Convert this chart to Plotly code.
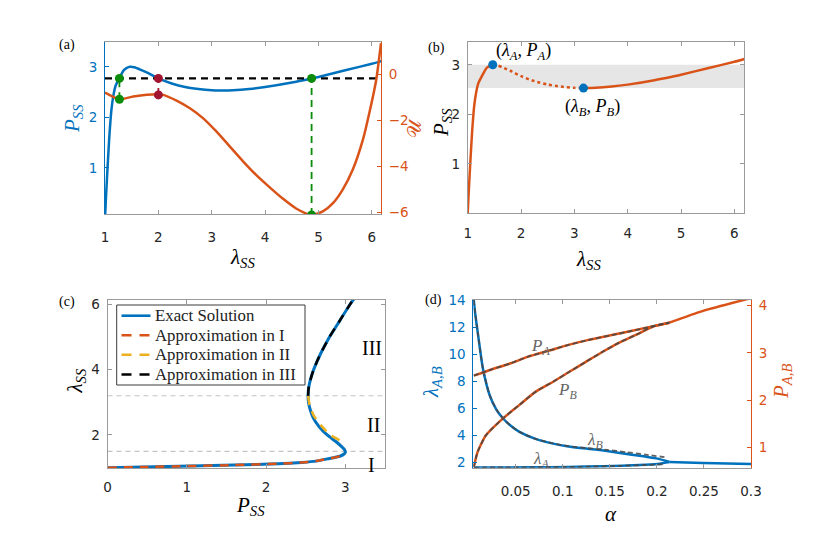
import plotly.graph_objects as go

W, H = 830, 538
OX, OY = 8, 8  # page body margin of the browser
BLUE = "#0072BD"; ORANGE = "#D95319"; YELLOW = "#EDB120"
GREEN = "#0b8c0b"; RED = "#A2142F"; FRAME = "#9a9a9a"; TICK = "#262626"; LGRAY = "#666666"
SERIF = "Liberation Serif"; SANS = "DejaVu Sans"

# ---- steady-state pressure curve P_SS(lambda_SS) ----
lam_ss = [1.00, 1.02, 1.05, 1.08, 1.12, 1.16, 1.20, 1.27, 1.35, 1.41, 1.47, 1.55, 1.65, 1.80,
          2.00, 2.25, 2.50, 2.75, 3.00, 3.17, 3.40, 3.70, 4.00, 4.50, 4.87, 5.00, 5.50, 6.00, 6.20]
p_ss = [0.00, 0.45, 1.05, 1.60, 2.15, 2.45, 2.63, 2.78, 2.93, 2.98, 3.00, 2.99, 2.95, 2.88,
        2.77, 2.67, 2.60, 2.56, 2.535, 2.53, 2.535, 2.56, 2.60, 2.69, 2.77, 2.80, 2.93, 3.06, 3.12]

# ---- potential U(lambda) ----
lam_u = [1.00, 1.27, 1.53, 1.97, 2.09, 2.34, 2.59, 2.84, 3.09, 3.34, 3.59, 3.83, 4.08, 4.33,
         4.58, 4.86, 5.08, 5.27, 5.45, 5.64, 5.83, 5.95, 6.08, 6.17]
u_val = [-0.79, -1.08, -0.96, -0.86, -0.89, -1.14, -1.47, -1.91, -2.49, -3.14, -3.79, -4.37,
         -4.90, -5.40, -5.83, -6.11, -5.96, -5.60, -5.02, -4.15, -2.85, -1.69, -0.24, 1.36]
p_line = 2.77
lam_marks = [1.27, 2.00, 4.87]
u_marks = [-1.08, -0.89, -6.11]
mark_colors = [GREEN, RED, GREEN]

# ---- (b) critical points ----
lam_A, P_A = 1.47, 3.00
lam_B, P_B = 3.17, 2.53

# ---- (c) approximations ----
lam_I = [1.00, 1.02, 1.05, 1.08, 1.12, 1.16, 1.20, 1.27, 1.33, 1.38]
p_I = [0.00, 0.45, 1.05, 1.60, 2.15, 2.45, 2.63, 2.78, 2.90, 2.96]
lam_II = [3.20, 2.90, 2.60, 2.30, 2.00, 1.78]
p_II = [2.53, 2.55, 2.60, 2.69, 2.81, 2.98]
lam_III = [3.20, 3.50, 4.00, 4.50, 5.00, 5.50, 6.00, 6.15]
p_III = [2.53, 2.54, 2.60, 2.69, 2.80, 2.93, 3.06, 3.10]
bounds_c = [1.5, 3.2]
legend_names = ["Exact Solution", "Approximation in I", "Approximation in II", "Approximation in III"]

# ---- (d) critical values vs alpha ----
alpha_lB = [0.0055, 0.007, 0.0101, 0.0152, 0.0224, 0.0295, 0.0367, 0.0448, 0.054, 0.0704, 0.0898,
            0.1061, 0.1265, 0.147, 0.1715, 0.1878, 0.2011, 0.2133]
lamB = [14.0, 13.0, 11.4, 8.94, 6.96, 5.9, 5.24, 4.7, 4.25, 3.75, 3.38, 3.17,
        3.0, 2.83, 2.57, 2.42, 2.27, 2.02]
alpha_lA = [0.0055, 0.0448, 0.0857, 0.1265, 0.1623, 0.1878, 0.2031, 0.2133]
lamA = [1.61, 1.62, 1.64, 1.68, 1.74, 1.82, 1.90, 2.02]
alpha_lpost = [0.2133, 0.2491, 0.30]
lam_post = [2.02, 1.95, 1.87]
alpha_lB_ap = [0.0055, 0.007, 0.0101, 0.0152, 0.0224, 0.0295, 0.0367, 0.0448, 0.054, 0.0704, 0.0898,
               0.1061, 0.1265, 0.147, 0.1674, 0.1878, 0.2113]
lamB_ap = [14.0, 13.0, 11.4, 8.94, 6.96, 5.9, 5.24, 4.7, 4.25, 3.75, 3.40, 3.20,
           3.04, 2.92, 2.75, 2.57, 2.35]
alpha_lA_ap = [0.0055, 0.0448, 0.0857, 0.1265, 0.1623, 0.1878, 0.2082]
lamA_ap = [1.61, 1.62, 1.64, 1.68, 1.74, 1.80, 1.86]
alpha_PA = [0.0055, 0.0244, 0.0448, 0.0632, 0.0857, 0.1061, 0.1265, 0.1602, 0.1878, 0.2133]
PA = [2.52, 2.65, 2.78, 2.92, 3.05, 3.17, 3.27, 3.41, 3.53, 3.64]
alpha_PB = [0.0056, 0.0097, 0.0186, 0.0363, 0.054, 0.0714, 0.0898, 0.1071, 0.1245, 0.1429, 0.1602,
            0.1776, 0.196, 0.2133]
PB = [0.59, 0.91, 1.26, 1.61, 1.90, 2.18, 2.39, 2.60, 2.81, 3.03, 3.22, 3.38, 3.56, 3.64]
alpha_Ppost = [0.2133, 0.2491, 0.30]
P_post = [3.64, 3.89, 4.16]

# axis ranges
XR_A = [1, 6.17]; YR_A = [0.09, 3.49]; UR_A = [-6.07, 1.41]
XR_B = [1, 6.18]; YR_B = [0.01, 3.46]
XR_C = [0, 3.5]; YR_C = [0.98, 6.13]
XR_D = [0.005, 0.3]; YL_D = [1.6, 14.0]; YRR_D = [0.57, 4.12]


def px(x):
    return (x - OX) / W


def py(y):
    return 1 - (y - OY) / H


def p_to_u(p):
    return UR_A[0] + (p - YR_A[0]) / (YR_A[1] - YR_A[0]) * (UR_A[1] - UR_A[0])


fig = go.Figure()
NL = dict(showlegend=False, hoverinfo="skip")
SPL = dict(shape="spline", smoothing=0.6)

# ---------------- (a) ----------------
fig.add_trace(go.Scatter(x=lam_ss, y=p_ss, mode="lines", line=dict(color=BLUE, width=2.5, **SPL),
                         xaxis="x", yaxis="y", **NL))
fig.add_trace(go.Scatter(x=lam_u, y=u_val, mode="lines", line=dict(color=ORANGE, width=2.5, **SPL),
                         xaxis="x", yaxis="y2", **NL))
fig.add_trace(go.Scatter(x=[lam_ss[0], lam_ss[-1]], y=[p_line, p_line], mode="lines",
                         line=dict(color="black", width=2.2, dash="7px,5px"), xaxis="x", yaxis="y", **NL))
for lm, um, c in zip(lam_marks, u_marks, mark_colors):
    fig.add_trace(go.Scatter(x=[lm, lm], y=[um, p_to_u(p_line)], mode="lines",
                             line=dict(color=c, width=1.8, dash="7px,5px"), xaxis="x", yaxis="y2", **NL))
    fig.add_trace(go.Scatter(x=[lm], y=[um], mode="markers", marker=dict(color=c, size=9),
                             xaxis="x", yaxis="y2", **NL))
    fig.add_trace(go.Scatter(x=[lm], y=[p_line], mode="markers", marker=dict(color=c, size=9),
                             xaxis="x", yaxis="y", **NL))

# ---------------- (b) ----------------
seg1 = [(l, p) for l, p in zip(lam_ss, p_ss) if l <= lam_A]
seg2 = [(l, p) for l, p in zip(lam_ss, p_ss) if lam_A <= l <= lam_B]
seg3 = [(l, p) for l, p in zip(lam_ss, p_ss) if l >= lam_B]
for seg, dash in ((seg1, "solid"), (seg2, "dot"), (seg3, "solid")):
    fig.add_trace(go.Scatter(x=[s[0] for s in seg], y=[s[1] for s in seg], mode="lines",
                             line=dict(color=ORANGE, width=2.5, dash=dash, **SPL),
                             xaxis="x2", yaxis="y3", **NL))
fig.add_trace(go.Scatter(x=[lam_A, lam_B], y=[P_A, P_B], mode="markers", marker=dict(color=BLUE, size=9),
                         xaxis="x2", yaxis="y3", **NL))

# ---------------- (c) ----------------
C_COLORS = [BLUE, ORANGE, YELLOW, "black"]
C_DASH = ["solid", "9px,7px", "9px,7px", "9px,7px"]
C_WIDTH = [3, 2.5, 2.5, 2.5]
for (xs, ys), nm, col, dsh, wd in zip(((p_ss, lam_ss), (p_I, lam_I), (p_II, lam_II), (p_III, lam_III)),
                                      legend_names, C_COLORS, C_DASH, C_WIDTH):
    fig.add_trace(go.Scatter(x=xs, y=ys, mode="lines", name=nm, showlegend=False, hoverinfo="skip",
                             line=dict(color=col, width=wd, dash=dsh, **SPL), xaxis="x3", yaxis="y4"))

# ---------------- (d) ----------------
for xs, ys in ((alpha_lB, lamB), (alpha_lA, lamA), (alpha_lpost, lam_post)):
    fig.add_trace(go.Scatter(x=xs, y=ys, mode="lines", line=dict(color=BLUE, width=2.5, **SPL),
                             xaxis="x4", yaxis="y5", **NL))
for xs, ys in ((alpha_PA, PA), (alpha_PB, PB), (alpha_Ppost, P_post)):
    fig.add_trace(go.Scatter(x=xs, y=ys, mode="lines", line=dict(color=ORANGE, width=2.5, **SPL),
                             xaxis="x4", yaxis="y6", **NL))
for xs, ys, ya in ((alpha_lB_ap, lamB_ap, "y5"), (alpha_lA_ap, lamA_ap, "y5"),
                   (alpha_PA, PA, "y6"), (alpha_PB, PB, "y6")):
    fig.add_trace(go.Scatter(x=xs, y=ys, mode="lines",
                             line=dict(color="rgba(70,70,70,0.85)", width=1.8, dash="5px,3px", **SPL),
                             xaxis="x4", yaxis=ya, **NL))


def ax(domain, rng, anchor, color=FRAME, fcolor=TICK, mirror="ticks", **kw):
    d = dict(domain=domain, range=rng, anchor=anchor, showline=True, linecolor=color, linewidth=1,
             mirror=mirror, ticks="inside", ticklen=4, tickcolor=color, showgrid=False, zeroline=False,
             tickfont=dict(family=SANS, size=13.5, color=fcolor), fixedrange=True, automargin=False)
    d.update(kw)
    return d


DA_X = [px(105), px(381)]; DA_Y = [py(214), py(42)]
DB_X = [px(467.7), px(744)]; DB_Y = [py(213), py(42)]
DC_X = [px(107.5), px(385)]; DC_Y = [py(468.3), py(300)]
DD_X = [px(473.3), px(751)]; DD_Y = [py(467.7), py(300)]

# manual legend for panel (c)
LEG_X0, LEG_X1, LEG_Y0, LEG_Y1 = 116.7, 305, 305, 385
LEG_ROWS = [315.7, 335.3, 354.8, 374.5]
shapes = [
    dict(type="rect", xref="x2 domain", x0=0, x1=1, yref="y3", y0=P_B, y1=P_A,
         fillcolor="#e6e6e6", line=dict(width=0), layer="below"),
    *[dict(type="line", xref="x3 domain", x0=0, x1=1, yref="y4", y0=b, y1=b,
           line=dict(color="#c4c4c4", width=1.2, dash="5px,4px"), layer="below") for b in bounds_c],
    dict(type="rect", xref="paper", yref="paper", x0=px(LEG_X0), x1=px(LEG_X1), y0=py(LEG_Y1), y1=py(LEG_Y0),
         fillcolor="white", line=dict(color="#3a3a3a", width=1)),
]
for ry, col, dsh in zip(LEG_ROWS, C_COLORS, ["solid", "10px,8px", "10px,8px", "10px,8px"]):
    shapes.append(dict(type="line", xref="paper", yref="paper", x0=px(121.5), x1=px(150.5),
                       y0=py(ry), y1=py(ry), line=dict(color=col, width=2.6, dash=dsh)))

fig.update_layout(
    template="none",
    width=W, height=H, margin=dict(l=0, r=0, t=0, b=0, autoexpand=False),
    paper_bgcolor="white", plot_bgcolor="rgba(0,0,0,0)", showlegend=False,
    xaxis=ax(DA_X, XR_A, "y", tickvals=[1, 2, 3, 4, 5, 6], ticklabelstandoff=11),
    yaxis=ax(DA_Y, YR_A, "x", color=BLUE, fcolor=BLUE, mirror=False, tickvals=[1, 2, 3], ticklabelstandoff=4),
    yaxis2=dict(ax(DA_Y, UR_A, "x", color=ORANGE, fcolor=ORANGE, mirror=False, tickvals=[-6, -4, -2, 0],
                   ticklabelstandoff=4), overlaying="y", side="right"),
    xaxis2=ax(DB_X, XR_B, "y3", tickvals=[1, 2, 3, 4, 5, 6], ticklabelstandoff=8),
    yaxis3=ax(DB_Y, YR_B, "x2", tickvals=[1, 2, 3], ticklabelstandoff=4),
    xaxis3=ax(DC_X, XR_C, "y4", tickvals=[0, 1, 2, 3], ticklabelstandoff=6),
    yaxis4=ax(DC_Y, YR_C, "x3", tickvals=[2, 4, 6], ticklabelstandoff=4),
    xaxis4=ax(DD_X, XR_D, "y5", tickvals=[0.05, 0.1, 0.15, 0.2, 0.25, 0.3],
              ticktext=["0.05", "0.1", "0.15", "0.2", "0.25", "0.3"], ticklabelstandoff=11),
    yaxis5=ax(DD_Y, YL_D, "x4", color=BLUE, fcolor=BLUE, mirror=False, tickvals=[2, 4, 6, 8, 10, 12, 14],
              ticklabelstandoff=4),
    yaxis6=dict(ax(DD_Y, YRR_D, "x4", color=ORANGE, fcolor=ORANGE, mirror=False, tickvals=[1, 2, 3, 4],
                   ticklabelstandoff=4), overlaying="y5", side="right"),
    shapes=shapes,
)

ann = []


def A(text, x, y, size=21, color="black", angle=0, xref="paper", yref="paper", **kw):
    d = dict(text=text, x=x, y=y, xref=xref, yref=yref, showarrow=False, textangle=angle,
             xanchor="center", yanchor="middle", font=dict(family=SERIF, size=size, color=color))
    d.update(kw)
    ann.append(d)


LSS = "<i>λ</i><sub><i>SS</i></sub>"
PSS = "<i>P</i><sub><i>SS</i></sub>"
# panel tags
A("(a)", px(67), py(45), size=14)
A("(b)", px(437), py(48), size=14)
A("(c)", px(67), py(302), size=14)
A("(d)", px(433), py(300), size=14)
# axis titles
A(LSS, px(242), py(258)); A(PSS, px(73), py(119), color=BLUE, angle=-90)
A("𝒰", px(414), py(128), size=19, color=ORANGE, angle=-90)
A(LSS, px(588), py(260)); A(PSS, px(442), py(123), angle=-90)
A(PSS, px(250), py(506)); A(LSS, px(75.5), py(381), angle=-90)
A("<i>α</i>", px(611), py(514)); A("<i>λ</i><sub><i>A,B</i></sub>", px(432), py(382), color=BLUE, angle=-90)
A("<i>P</i><sub><i>A,B</i></sub>", px(782), py(382), color=ORANGE, angle=-90)
# legend texts
for ry, nm in zip(LEG_ROWS, legend_names):
    A(nm, px(153.3), py(ry), size=16.8, color="#222222", xanchor="left")
# (b) point labels
A("(<i>λ</i><sub><i>A</i></sub>, <i>P</i><sub><i>A</i></sub>)", lam_A, P_A, size=18, xref="x2", yref="y3",
  xanchor="left", yanchor="bottom", xshift=1, yshift=0)
A("(<i>λ</i><sub><i>B</i></sub>, <i>P</i><sub><i>B</i></sub>)", lam_B, P_B, size=18, xref="x2", yref="y3",
  xanchor="center", yanchor="top", xshift=9, yshift=-6)
# (c) region labels
A("III", 3.33, 4.65, size=20, xref="x3", yref="y4")
A("II", 3.35, 2.31, size=20, xref="x3", yref="y4")
A("I", 3.33, 1.08, size=20, xref="x3", yref="y4")
# (d) curve labels
A("<i>P</i><sub><i>A</i></sub>", 0.0768, 3.12, size=17, color=LGRAY, xref="x4", yref="y6")
A("<i>P</i><sub><i>B</i></sub>", 0.1051, 2.19, size=17, color=LGRAY, xref="x4", yref="y6")
A("<i>λ</i><sub><i>B</i></sub>", 0.1347, 3.6, size=17, color=LGRAY, xref="x4", yref="y5")
A("<i>λ</i><sub><i>A</i></sub>", 0.0768, 2.2, size=17, color=LGRAY, xref="x4", yref="y5")

fig.update_layout(annotations=ann)
fig.write_html("out.html")
